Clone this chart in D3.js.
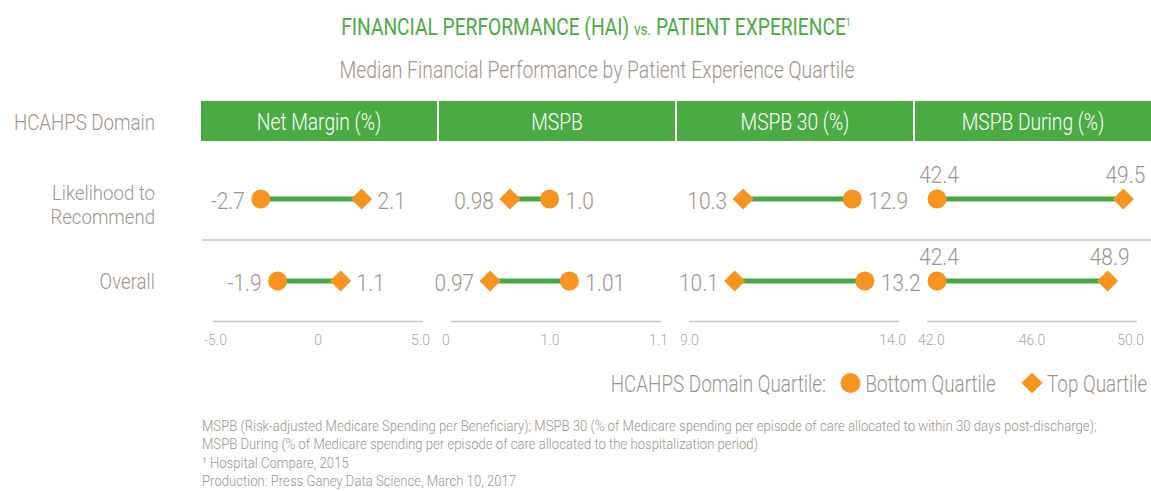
<!DOCTYPE html>
<html><head><meta charset="utf-8">
<script src="https://cdn.jsdelivr.net/npm/d3@7"></script>
<style>
html,body{margin:0;padding:0;background:#fff;}
svg{display:block;}
text{font-family:Roboto,"Liberation Sans",sans-serif;font-weight:300;}
</style></head><body>
<svg id="chart" width="1151" height="491"></svg>
<script>
// ---------------- data ----------------
const measures = ["Net Margin (%)", "MSPB", "MSPB 30 (%)", "MSPB During (%)"];
const domainRows = ["Likelihood to Recommend", "Overall"];
const domainRowLines = [["Likelihood to", "Recommend"], ["Overall"]];
const bottomLTR = [-2.7, 1.0, 12.9, 42.4];
const topLTR = [2.1, 0.98, 10.3, 49.5];
const bottomOverall = [-1.9, 1.01, 13.2, 42.4];
const topOverall = [1.1, 0.97, 10.1, 48.9];
const axisDomains = [[-5, 5], [0.95, 1.056], [9, 14], [42, 50]];
const tickValues = [[-5, 0, 5], [0.95, 1.0, 1.056], [9, 14], [42, 46, 50]];
const tickLabels = [["-5.0", "0", "5.0"], ["0", "1.0", "1.1"], ["9.0", "14.0"], ["42.0", "46.0", "50.0"]];
const labelPlacement = ["side", "side", "side", "above"];
const legendTitle = "HCAHPS Domain Quartile:";
const legendItems = ["Bottom Quartile", "Top Quartile"];
const footnotes = [
  "MSPB (Risk-adjusted Medicare Spending per Beneficiary); MSPB 30 (% of Medicare spending per episode of care allocated to within 30 days post-discharge);",
  "MSPB During (% of Medicare spending per episode of care allocated to the hospitalization period)",
  "\u00B9 Hospital Compare, 2015",
  "Production: Press Ganey Data Science, March 10, 2017"
];

// ---------------- style ----------------
const GREEN = "#4aab43", LINEGREEN = "#4aa844", ORANGE = "#f7941d";
const TEXT = "#a0958b", TICK = "#b0a69c", RULE = "#cdc5bc";

const svg = d3.select("#chart");

function condense(sel, x, y, k) {
  sel.attr("x", 0).attr("y", 0).attr("transform", `translate(${x},${y}) scale(${k},1)`);
}
function fitWidth(sel, x, y, target) {
  const w = sel.node().getComputedTextLength();
  const k = target / w;
  condense(sel, x, y, k);
  return k;
}

// ---------------- titles ----------------
const title = svg.append("text").attr("text-anchor", "middle").attr("fill", GREEN).style("font-weight", 400);
title.append("tspan").attr("font-size", 24).text("FINANCIAL PERFORMANCE (HAI) ");
title.append("tspan").attr("font-size", 17).text("vs.");
title.append("tspan").attr("font-size", 24).text(" PATIENT EXPERIENCE");
title.append("tspan").attr("font-size", 11).attr("dy", -9).text("1");
fitWidth(title, 596, 35, 510);

const subtitle = svg.append("text").attr("text-anchor", "middle").attr("fill", TEXT)
  .attr("font-size", 23).text("Median Financial Performance by Patient Experience Quartile");
fitWidth(subtitle, 597, 78, 515);

// ---------------- header band ----------------
const band = d3.scaleBand().domain(measures).range([201, 1151]).paddingInner(0.0084).paddingOuter(0);
const headerY = 101, headerH = 40;
svg.selectAll("rect.head").data(measures).join("rect")
  .attr("class", "head")
  .attr("x", d => band(d)).attr("y", headerY)
  .attr("width", band.bandwidth()).attr("height", headerH)
  .attr("fill", GREEN);
svg.selectAll("text.head").data(measures).join("text")
  .attr("class", "head").attr("text-anchor", "middle").attr("fill", "#fff")
  .attr("font-size", 24).style("font-weight", 300)
  .text(d => d)
  .each(function (d) { condense(d3.select(this), band(d) + band.bandwidth() / 2, 129.5, 0.8); });

const hd = svg.append("text").attr("text-anchor", "end").attr("fill", TEXT).attr("font-size", 22.5).text("HCAHPS Domain");
condense(hd, 155, 129.5, 0.83);

// ---------------- rows ----------------
const rowY = d3.scalePoint().domain(domainRows).range([199, 281]);
domainRows.forEach((r, i) => {
  const lines = domainRowLines[i];
  const n = lines.length;
  const multi = n > 1;
  const fs = multi ? 20 : 22.5;
  const k = multi ? 0.93 : 0.83;
  const lh = 23.5;
  const yc = rowY(r) + 8.3 + (n - 1) * 4.9;
  lines.forEach((ln, j) => {
    const t = svg.append("text").attr("text-anchor", "end").attr("fill", TEXT).attr("font-size", fs).text(ln);
    condense(t, 155, yc + (j - (n - 1) / 2) * lh, k);
  });
});

// separator rule between the rows
svg.append("line")
  .attr("x1", 202).attr("x2", 1151)
  .attr("y1", (rowY(domainRows[0]) + rowY(domainRows[1])) / 2)
  .attr("y2", (rowY(domainRows[0]) + rowY(domainRows[1])) / 2)
  .attr("stroke", RULE).attr("stroke-width", 1.5);

// ---------------- panels ----------------
const rowsData = [
  { row: domainRows[0], bottom: bottomLTR, top: topLTR },
  { row: domainRows[1], bottom: bottomOverall, top: topOverall }
];
const fmt = v => (Math.abs(v * 10 - Math.round(v * 10)) < 1e-9 ? v.toFixed(1) : v.toFixed(2));
const diamond = d3.symbol().type(d3.symbolSquare).size(225);
const axisY = 321;

measures.forEach((m, p) => {
  const c = band(m) + band.bandwidth() / 2;
  const x = d3.scaleLinear().domain(axisDomains[p]).range([c - 106.5, c + 103.5]);
  const g = svg.append("g");

  // axis
  const axis = d3.axisBottom(x).tickValues(tickValues[p]).tickSize(0).tickPadding(14)
    .tickFormat((d, i) => tickLabels[p][i]);
  const ag = g.append("g").attr("transform", `translate(0,${axisY})`).call(axis);
  ag.select(".domain").attr("stroke", RULE).attr("stroke-width", 1.5);
  ag.selectAll(".tick text").attr("fill", TICK).attr("font-size", 14)
    .style("font-family", "Roboto, sans-serif").style("font-weight", 300)
    .attr("dy", "0.71em")
    .attr("text-anchor", (d, i, n) => i === 0 ? "start" : (i === n.length - 1 ? "end" : "middle"))
    .attr("dx", (d, i, n) => i === 0 ? -9 : (i === n.length - 1 ? 7 : 0));

  rowsData.forEach(rd => {
    const y = rowY(rd.row);
    const xb = x(rd.bottom[p]), xt = x(rd.top[p]);
    g.append("line").attr("x1", xb).attr("x2", xt).attr("y1", y).attr("y2", y)
      .attr("stroke", LINEGREEN).attr("stroke-width", 5);
    g.append("circle").attr("cx", xb).attr("cy", y).attr("r", 9.5).attr("fill", ORANGE);
    g.append("path").attr("d", diamond).attr("fill", ORANGE)
      .attr("transform", `translate(${xt},${y}) rotate(45)`);

    const pts = [{ v: rd.bottom[p], x: xb }, { v: rd.top[p], x: xt }].sort((a, b) => a.x - b.x);
    pts.forEach((pt, i) => {
      const t = g.append("text").attr("fill", TEXT).attr("font-size", 24).text(fmt(pt.v));
      if (labelPlacement[p] === "above") {
        t.attr("text-anchor", "middle");
        condense(t, pt.x + 2, y - 16, 0.87);
      } else {
        t.attr("text-anchor", i === 0 ? "end" : "start");
        condense(t, i === 0 ? pt.x - 16 : pt.x + 16, y + 9.5, 0.87);
      }
    });
  });
});

// ---------------- legend ----------------
const legY = 383;
const lt = svg.append("text").attr("text-anchor", "end").attr("fill", TEXT).attr("font-size", 23).text(legendTitle);
condense(lt, 826, legY + 8.5, 0.82);
const legX = d3.scalePoint().domain(legendItems).range([850.5, 1032]);
svg.append("circle").attr("cx", legX(legendItems[0])).attr("cy", legY).attr("r", 10).attr("fill", ORANGE);
svg.append("path").attr("d", diamond).attr("fill", ORANGE)
  .attr("transform", `translate(${legX(legendItems[1])},${legY}) rotate(45)`);
legendItems.forEach(it => {
  const t = svg.append("text").attr("text-anchor", "start").attr("fill", TEXT).attr("font-size", 23).text(it);
  condense(t, legX(it) + 15, legY + 8.5, 0.82);
});

// ---------------- footnotes ----------------
const fy = d3.scalePoint().domain(d3.range(footnotes.length)).range([431, 486]);
let fk = null;
footnotes.forEach((f, i) => {
  const t = svg.append("text").attr("fill", TEXT).attr("font-size", 14.5).text(f);
  if (fk === null) fk = fitWidth(t, 202, fy(i), 895);
  else condense(t, 202, fy(i), fk);
});
</script>
</body></html>
